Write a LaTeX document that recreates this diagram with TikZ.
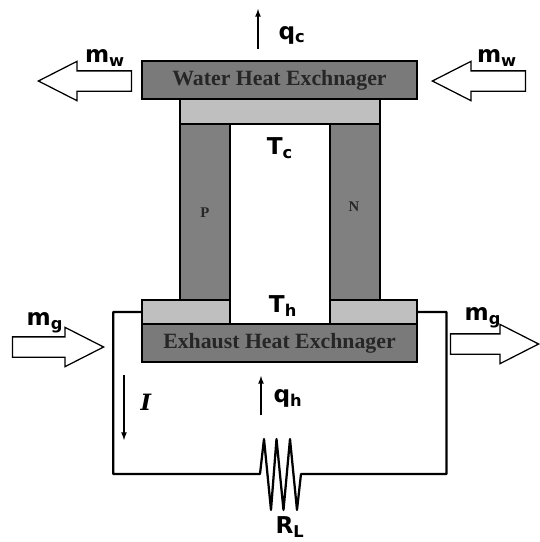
\documentclass[tikz,border=0pt]{standalone}
\usepackage{fontspec}
\setmainfont{DejaVu Sans}
\newfontfamily\hxfont{Liberation Serif}
\newfontfamily\curfont{DejaVu Serif}
\usetikzlibrary{shapes,shapes.arrows}

\begin{document}
\begin{tikzpicture}
  [x=0.025cm,y=-0.025cm,
   hxN/.style={rectangle,draw,fill=black!52,line width=1.4pt,minimum width=6.875cm,inner sep=0pt,text=black!85,font=\hxfont\bfseries\fontsize{15.5}{17}\selectfont},
   padN/.style={rectangle,draw,fill=black!25,line width=1.2pt,minimum height=0.6cm,inner sep=0pt},
   legN/.style={rectangle,draw,fill=black!50,line width=1.2pt,minimum width=1.25cm,minimum height=4.4cm,inner sep=0pt,text=black!85,font=\hxfont\bfseries\fontsize{10.5}{12}\selectfont},
   flowN/.style={single arrow,draw,fill=white,line width=0.9pt,minimum height=2.325cm,minimum width=0.95cm,inner xsep=0pt,inner ysep=0.2375cm,single arrow head extend=0.2375cm,single arrow tip angle=54,anchor=tip},
   lblN/.style={font=\bfseries\fontsize{16.5}{18}\selectfont,inner sep=0pt},
   wire/.style={line width=1.6pt,line join=round},
   thin arrow/.style={-latex,line width=0.9pt}]

  \useasboundingbox (0,0) rectangle (540,542);

  % legs first, the plates sit on top
  \node at (205,212) [legN] (legp) {};
  \node at (355,212) [legN] (legn) {};
  \node at (205,213) [font=\hxfont\bfseries\fontsize{10.5}{12}\selectfont,text=black!85] (lp) {P};
  \node at (354,207) [font=\hxfont\bfseries\fontsize{10.5}{12}\selectfont,text=black!85] (ln) {N};

  \node at (280,111.5) [padN,minimum width=5cm,minimum height=0.625cm] (padc) {};
  \node at (186,312)   [padN,minimum width=2.2cm] (padhl) {};
  \node at (373.5,312) [padN,minimum width=2.175cm] (padhr) {};

  \node at (279.5,80)  [hxN,minimum height=0.95cm] (hxw) {Water Heat Exchnager};
  \node at (279.5,343) [hxN,minimum height=0.95cm] (hxe) {Exhaust Heat Exchnager};

  % flows
  \node at (37,81)   [flowN,shape border rotate=180] (mwl) {};
  \node at (431,81)  [flowN,shape border rotate=180] (mwr) {};
  \node at (105,347) [flowN,minimum height=2.275cm] (mgl) {};
  \node at (540,344) [flowN,minimum height=2.2cm] (mgr) {};

  \node at (105,58)  [lblN] (lmwl) {m\textsubscript{w}};
  \node at (497,58)  [lblN] (lmwr) {m\textsubscript{w}};
  \node at (45,323)  [lblN] (lmgl) {m\textsubscript{g}};
  \node at (483,318) [lblN] (lmgr) {m\textsubscript{g}};

  \node at (292,35)  [lblN] (lqc) {q\textsubscript{c}};
  \node at (280,148) [lblN] (ltc) {T\textsubscript{c}};
  \node at (283,306) [lblN] (lth) {T\textsubscript{h}};
  \node at (288,398) [lblN] (lqh) {q\textsubscript{h}};
  \node at (146,402) [lblN,font=\curfont\bfseries\itshape\fontsize{16}{18}\selectfont] (lcur) {I};
  \node at (290,527) [lblN] (lrl) {R\textsubscript{L}};

  % thin arrows
  \coordinate (qca) at (258,49);
  \coordinate (qcb) at (258,9);
  \coordinate (qha) at (261,415);
  \coordinate (qhb) at (261,376);
  \coordinate (cura) at (124,375);
  \coordinate (curb) at (124,440);
  \draw [thin arrow] (qca) to (qcb);
  \draw [thin arrow] (qha) to (qhb);
  \draw [thin arrow] (cura) to (curb);

  % circuit
  \coordinate (rla) at (260,474);
  \coordinate (rlb) at (301,474);
  \draw [wire] (padhl.west) -- ++(-28,0) |- (rla)
    -- (264,439) -- (271,510) -- (276.5,439) -- (283.5,510) -- (290,439) -- (297,510) -- (rlb)
    -- (446.5,474) |- (padhr.east);
\end{tikzpicture}
\end{document}
